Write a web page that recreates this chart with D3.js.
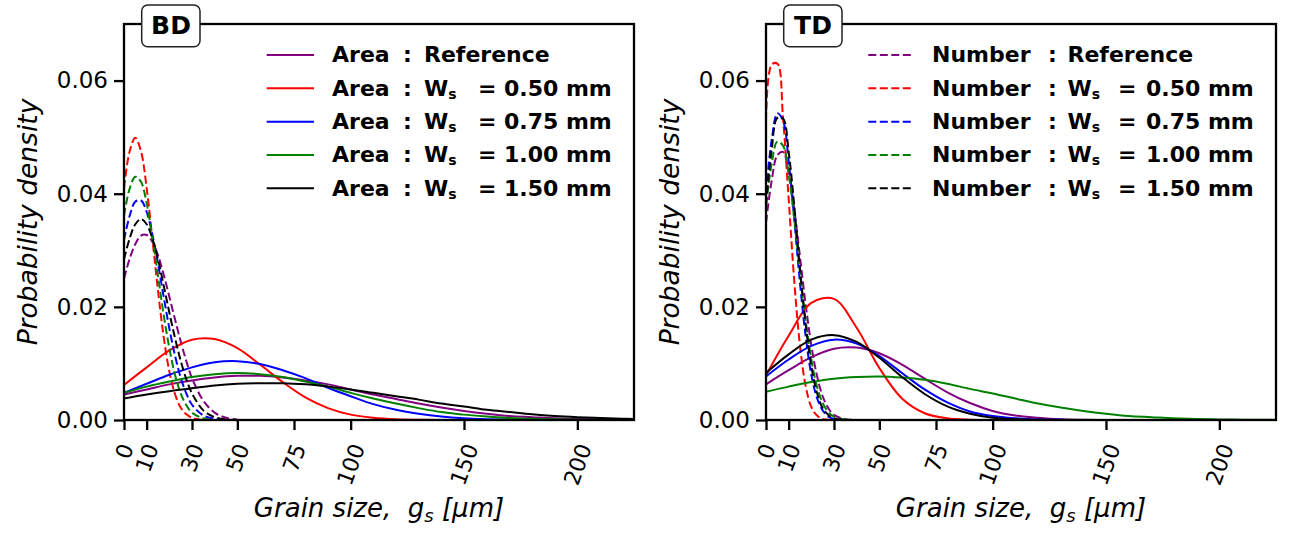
<!DOCTYPE html>
<html>
<head>
<meta charset="utf-8">
<script src="https://cdn.jsdelivr.net/npm/d3@7"></script>
<style>
  body { margin: 0; background: #fff; }
  text { font-family: "DejaVu Sans", sans-serif; fill: #000; }
</style>
</head>
<body>
<div id="chart"></div>
<script>
// ---- data ----
const seriesNames = ["Reference", "0.50 mm", "0.75 mm", "1.00 mm", "1.50 mm"];
const xTicks = [0, 10, 30, 50, 75, 100, 150, 200];
const yTicks = [0.00, 0.02, 0.04, 0.06];

// grain size samples (µm) for the number-weighted and area-weighted curves
const gridNumber = [0, 2.5, 5, 7.5, 10, 12.5, 15, 17.5, 20, 22.5, 25, 27.5, 30, 35, 40, 45, 50];
const gridArea = [0, 10, 20, 30, 40, 50, 60, 70, 80, 90, 100, 110, 120, 130, 140, 150,
                  160, 170, 180, 190, 200, 210, 220, 225];

// BD panel, rows follow seriesNames
const bdNumber = [
  [0.0250, 0.0285, 0.0311, 0.0326, 0.0327, 0.0315, 0.0291, 0.0257, 0.0218, 0.0178, 0.0139, 0.0104, 0.0074, 0.0034, 0.0013, 0.0004, 0.0001],
  [0.0410, 0.0475, 0.0499, 0.0475, 0.0410, 0.0321, 0.0229, 0.0147, 0.0086, 0.0046, 0.0022, 0.0010, 0.0004, 0, 0, 0, 0],
  [0.0318, 0.0361, 0.0386, 0.0388, 0.0368, 0.0328, 0.0276, 0.0218, 0.0162, 0.0114, 0.0075, 0.0047, 0.0027, 0.0008, 0.0002, 0, 0],
  [0.0361, 0.0409, 0.0430, 0.0421, 0.0383, 0.0324, 0.0255, 0.0186, 0.0127, 0.0080, 0.0047, 0.0026, 0.0013, 0.0003, 0, 0, 0],
  [0.0284, 0.0321, 0.0346, 0.0355, 0.0346, 0.0321, 0.0284, 0.0238, 0.0190, 0.0145, 0.0105, 0.0072, 0.0047, 0.0017, 0.0005, 0.0001, 0]
];
const bdArea = [
  [0.0045, 0.0054, 0.0063, 0.0070, 0.0075, 0.0078, 0.0078, 0.0075, 0.0070, 0.0063, 0.0054, 0.0045, 0.0037, 0.0029, 0.0022, 0.0016, 0.0011, 0.0007, 0.0005, 0.0003, 0.0002, 0.0001, 0.00006, 0.00005],
  [0.0062, 0.0093, 0.0123, 0.0142, 0.0143, 0.0127, 0.0098, 0.0067, 0.0040, 0.0021, 0.00095, 0.0004, 0.00013, 0.00004, 0, 0, 0, 0, 0, 0, 0, 0, 0, 0],
  [0.0048, 0.0064, 0.0080, 0.0093, 0.0102, 0.0104, 0.0099, 0.0088, 0.0074, 0.0057, 0.0042, 0.0028, 0.0018, 0.0011, 0.0006, 0.0003, 0.00015, 0.00007, 0.00003, 0, 0, 0, 0, 0],
  [0.0048, 0.0059, 0.0068, 0.0076, 0.0081, 0.0083, 0.0081, 0.0076, 0.0068, 0.0059, 0.0048, 0.0038, 0.0029, 0.0021, 0.0014, 0.00095, 0.0006, 0.00036, 0.0002, 0.00012, 0.00006, 0.00003, 0.00001, 0],
  [0.0038, 0.0045, 0.0051, 0.0056, 0.0061, 0.0064, 0.0065, 0.0065, 0.0063, 0.0059, 0.0054, 0.0048, 0.0042, 0.0036, 0.0029, 0.0024, 0.0018, 0.0014, 0.0010, 0.0007, 0.0005, 0.00036, 0.00024, 0.00019]
];

// TD panel
const tdNumber = [
  [0.0349, 0.0423, 0.0468, 0.0474, 0.0439, 0.0372, 0.0288, 0.0204, 0.0132, 0.0078, 0.0042, 0.0021, 0.0009, 0.00015, 0.00002, 0, 0],
  [0.0529, 0.0628, 0.0630, 0.0534, 0.0391, 0.0244, 0.0131, 0.0060, 0.0023, 0.0008, 0.0002, 0.00005, 0, 0, 0, 0, 0],
  [0.0402, 0.0495, 0.0542, 0.0529, 0.0458, 0.0353, 0.0242, 0.0148, 0.0080, 0.0039, 0.0017, 0.0006, 0.0002, 0, 0, 0, 0],
  [0.0379, 0.0453, 0.0492, 0.0485, 0.0435, 0.0354, 0.0261, 0.0176, 0.0107, 0.0059, 0.0030, 0.0014, 0.0006, 0.00007, 0, 0, 0],
  [0.0381, 0.0477, 0.0534, 0.0533, 0.0474, 0.0377, 0.0267, 0.0169, 0.0095, 0.0048, 0.0021, 0.0009, 0.0003, 0.00003, 0, 0, 0]
];
const tdArea = [
  [0.0063, 0.0088, 0.0111, 0.0126, 0.0128, 0.0118, 0.0098, 0.0073, 0.0049, 0.0030, 0.0016, 0.0008, 0.0004, 0.00014, 0.00005, 0, 0, 0, 0, 0, 0, 0, 0, 0],
  [0.0079, 0.0149, 0.0207, 0.0214, 0.0163, 0.0092, 0.0038, 0.0012, 0.0003, 0.00005, 0, 0, 0, 0, 0, 0, 0, 0, 0, 0, 0, 0, 0, 0],
  [0.0077, 0.0107, 0.0131, 0.0142, 0.0135, 0.0113, 0.0083, 0.0054, 0.0031, 0.0015, 0.0007, 0.0003, 0.00009, 0.00003, 0, 0, 0, 0, 0, 0, 0, 0, 0, 0],
  [0.0050, 0.0059, 0.0067, 0.0073, 0.0076, 0.0077, 0.0075, 0.0071, 0.0064, 0.0055, 0.0047, 0.0038, 0.0029, 0.0022, 0.0016, 0.0011, 0.0007, 0.0005, 0.0003, 0.00018, 0.0001, 0.00006, 0.00003, 0.00002],
  [0.0083, 0.0116, 0.0142, 0.0150, 0.0138, 0.0110, 0.0076, 0.0046, 0.0024, 0.0011, 0.0004, 0.00015, 0.00004, 0, 0, 0, 0, 0, 0, 0, 0, 0, 0, 0]
];

// ---- styling ----
const colors = ["purple", "red", "blue", "green", "black"];
const width = 1301, height = 542;
const plotW = 510, plotTop = 24, plotBottom = 420;
const dash = "8,3.5";

const svg = d3.select("#chart").append("svg")
  .attr("width", width).attr("height", height);

const panels = [
  { name: "BD", left: 124, number: bdNumber, area: bdArea, kind: "Area", dashed: false,
    legX: 332, off: { colon: 71, w: 92, eq: 146, val: 172 }, hx: [266.7, 314] },
  { name: "TD", left: 766, number: tdNumber, area: tdArea, kind: "Number", dashed: true,
    legX: 932, off: { colon: 116, w: 135.5, eq: 186, val: 214 }, hx: [868.3, 912.7] }
];

const y = d3.scaleLinear().domain([0, 0.07]).range([plotBottom, plotTop]);
const curve = d3.curveCatmullRom.alpha(0.5);

panels.forEach((p, pi) => {
  const x = d3.scaleLinear().domain([0, 225]).range([p.left, p.left + plotW]);
  const g = svg.append("g");

  const clipId = "clip" + pi;
  g.append("clipPath").attr("id", clipId)
    .append("rect")
    .attr("x", p.left).attr("y", plotTop)
    .attr("width", plotW).attr("height", plotBottom - plotTop);

  const line = (grid) => d3.line()
    .x((d, i) => x(grid[i]))
    .y(d => y(d))
    .curve(curve);

  const curves = g.append("g").attr("clip-path", `url(#${clipId})`);
  seriesNames.forEach((s, i) => {
    curves.append("path")
      .attr("d", line(gridArea)(p.area[i]))
      .attr("fill", "none")
      .attr("stroke", colors[i])
      .attr("stroke-width", 2);
    curves.append("path")
      .attr("d", line(gridNumber)(p.number[i]))
      .attr("fill", "none")
      .attr("stroke", colors[i])
      .attr("stroke-width", 2)
      .attr("stroke-dasharray", dash);
  });

  // axes
  const gy = g.append("g")
    .attr("transform", `translate(${p.left},0)`)
    .call(d3.axisLeft(y).tickValues(yTicks).tickFormat(d3.format(".2f"))
      .tickSize(10).tickPadding(6));
  gy.select(".domain").remove();
  gy.selectAll(".tick line").attr("stroke", "#000").attr("stroke-width", 2.3);
  gy.selectAll(".tick text").attr("font-size", 23).attr("font-family", "DejaVu Sans");

  const gx = g.append("g")
    .attr("transform", `translate(0,${plotBottom})`)
    .call(d3.axisBottom(x).tickValues(xTicks).tickSize(10));
  gx.select(".domain").remove();
  gx.selectAll(".tick line").attr("stroke", "#000").attr("stroke-width", 2.3);
  const rot = 70 * Math.PI / 180;
  gx.selectAll(".tick text")
    .attr("font-size", 22).attr("font-family", "DejaVu Sans")
    .each(function () {
      const L = this.getComputedTextLength();
      const v = L * Math.sin(rot) + 0.73 * 22 * Math.cos(rot);
      d3.select(this)
        .attr("y", 0).attr("dy", null)
        .attr("text-anchor", "middle")
        .attr("dominant-baseline", "central")
        .attr("transform", `translate(0,${22 + v / 2}) rotate(-70)`);
    });

  // frame
  g.append("rect")
    .attr("x", p.left).attr("y", plotTop)
    .attr("width", plotW).attr("height", plotBottom - plotTop)
    .attr("fill", "none").attr("stroke", "#000").attr("stroke-width", 2.3);

  // axis labels
  g.append("text")
    .attr("transform", `translate(${p.left - 87},${(plotTop + plotBottom) / 2}) rotate(-90)`)
    .attr("text-anchor", "middle")
    .attr("font-size", 26.5).attr("font-style", "italic")
    .text("Probability density");

  const xl = g.append("text")
    .attr("x", p.left + plotW / 2).attr("y", 517)
    .attr("text-anchor", "middle")
    .attr("font-size", 26).attr("font-style", "italic")
    .attr("xml:space", "preserve");
  xl.append("tspan").text("Grain size,\u00a0\u00a0g");
  xl.append("tspan").attr("font-size", 18).attr("dy", 5).text("s");
  xl.append("tspan").attr("dy", -5).text("\u00a0[\u03bcm]");

  // panel tag
  g.append("rect")
    .attr("x", p.left + 17.7).attr("y", 5)
    .attr("width", 58.3).attr("height", 41.7).attr("rx", 6)
    .attr("fill", "#fff").attr("stroke", "#222").attr("stroke-width", 1.5);
  g.append("text")
    .attr("x", p.left + 47).attr("y", 25.5)
    .attr("text-anchor", "middle").attr("dominant-baseline", "central")
    .attr("font-size", 25).attr("font-weight", "bold")
    .text(p.name);

  // legend
  const lg = g.append("g");
  seriesNames.forEach((s, i) => {
    const yy = 55 + i * 33.33;
    lg.append("line")
      .attr("x1", p.hx[0]).attr("x2", p.hx[1]).attr("y1", yy).attr("y2", yy)
      .attr("stroke", colors[i]).attr("stroke-width", 2)
      .attr("stroke-dasharray", p.dashed ? dash : null);
    const t = lg.append("text")
      .attr("y", yy + 7.4)
      .attr("font-size", 22).attr("font-weight", "bold");
    t.append("tspan").attr("x", p.legX).text(p.kind);
    t.append("tspan").attr("x", p.legX + p.off.colon).text(":");
    if (i === 0) {
      t.append("tspan").attr("x", p.legX + p.off.w).text(s);
    } else {
      t.append("tspan").attr("x", p.legX + p.off.w).text("W");
      t.append("tspan").attr("font-size", 14).attr("dy", 3).text("s");
      t.append("tspan").attr("x", p.legX + p.off.eq).attr("dy", -3).text("=");
      t.append("tspan").attr("x", p.legX + p.off.val).text(s);
    }
  });
});
</script>
</body>
</html>
